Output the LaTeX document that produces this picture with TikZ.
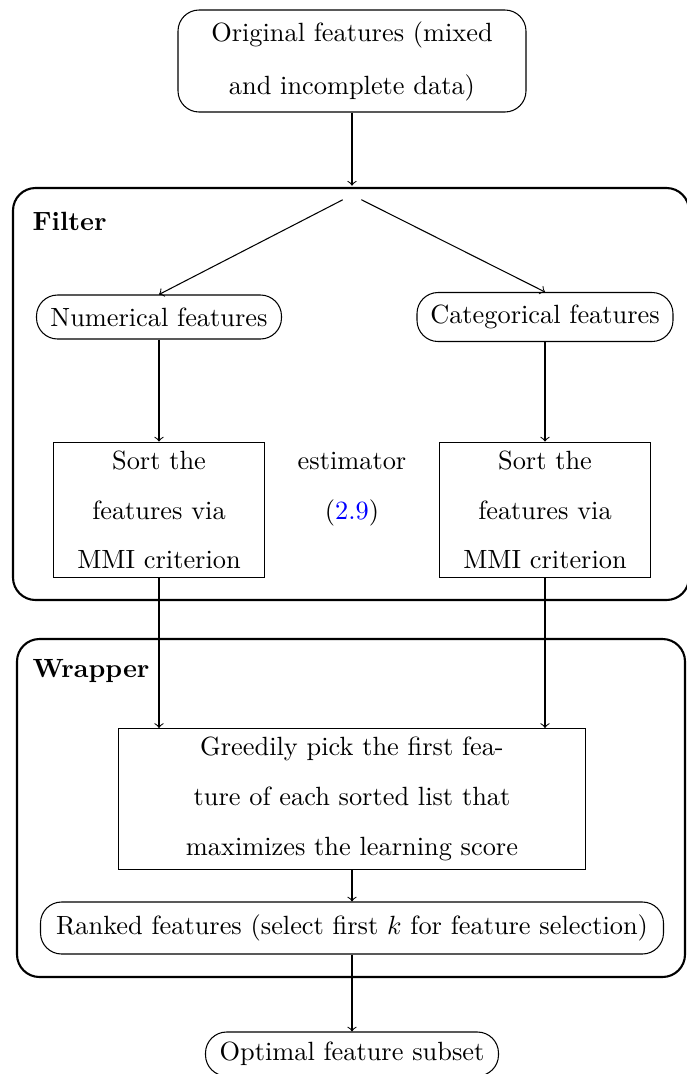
\documentclass[tikz,border=0pt]{standalone}
\usepackage{xcolor}
\newcommand{\pxu}{0.3794pt}

\begin{document}
\begin{tikzpicture}[x=0.3794pt,y=-0.3794pt,>=to,
  box/.style={draw,rectangle,align=center,font=\linespread{1.57}\selectfont},
  rbox/.style={box,rounded corners=8pt},
  group/.style={draw,thick,rounded corners=3mm,inner sep=0pt}]
\useasboundingbox (0,0) rectangle (687,1074);
\node (filter) [group,minimum width=676*\pxu,minimum height=412*\pxu] at (351,394) {};
\node (wrapper) [group,minimum width=668*\pxu,minimum height=338*\pxu] at (351,808) {};
\node (filterlab) [anchor=base west,inner sep=0pt] at (32,230) {\textbf{Filter}};
\node (wrapperlab) [anchor=base west,inner sep=0pt] at (32,677) {\textbf{Wrapper}};

\node (orig) [rbox,minimum width=348*\pxu,minimum height=102*\pxu,font=\linespread{1.68}\selectfont] at (352,61) {Original features (mixed\\and incomplete data)};
\node (split) at (352,195) {};
\node (num) [rbox,minimum width=245*\pxu,minimum height=44*\pxu] at (159,317) {Numerical features};
\node (cat) [rbox,minimum width=256*\pxu,minimum height=49*\pxu] at (545,317) {Categorical features};
\node (sortL) [box,minimum width=211*\pxu,minimum height=134*\pxu] at (159,510) {Sort the\\features via\\MMI criterion};
\node (sortR) [box,minimum width=211*\pxu,minimum height=134*\pxu] at (545,510) {Sort the\\features via\\MMI criterion};
\node (est) [align=center,font=\linespread{1.57}\selectfont] at (352,489) {estimator\\(\textcolor{blue}{2.9})};
\node (greedy) [box,minimum width=467*\pxu,minimum height=140*\pxu] at (352,799) {Greedily pick the first fea-\\ture of each sorted list that\\maximizes the learning score};
\node (ranked) [rbox,minimum width=623*\pxu,minimum height=52*\pxu] at (352,928) {Ranked features (select first $k$ for feature selection)};
\node (optimal) [rbox,minimum width=293*\pxu,minimum height=44*\pxu] at (352,1054) {Optimal feature subset};

\draw[->] (orig) -- (split);
\draw[->] (split) -- (num.north);
\draw[->] (split) -- (cat.north);
\draw[->] (num) -- (sortL);
\draw[->] (cat) -- (sortR);
\draw[->] (sortL) -- (sortL |- greedy.north);
\draw[->] (sortR) -- (sortR |- greedy.north);
\draw[->] (greedy) -- (ranked);
\draw[->] (ranked) -- (optimal);
\end{tikzpicture}
\end{document}
